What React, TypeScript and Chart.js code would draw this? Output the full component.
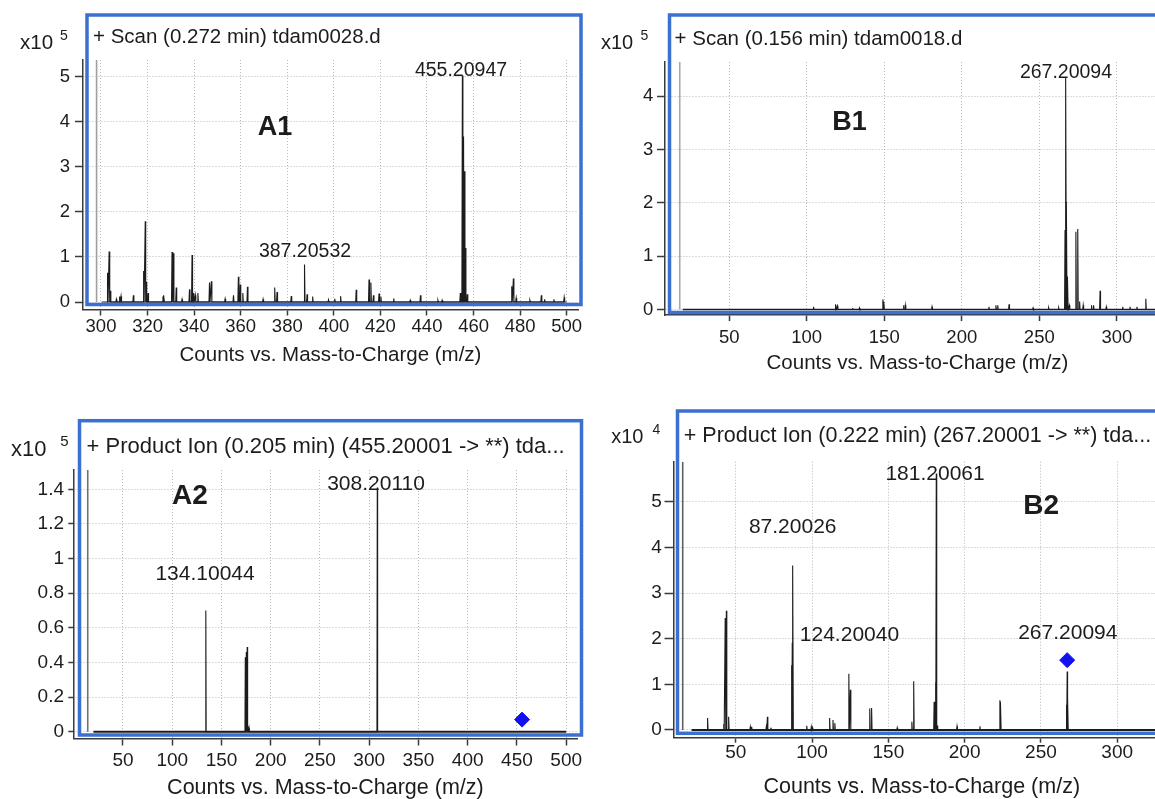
import React, { useEffect, useRef } from "react";
import { Chart, registerables } from "chart.js";

Chart.register(...registerables);

const FONT = "'Liberation Sans', Arial, Helvetica, sans-serif";
const FRAME_BLUE = "#3b6fd0";
const INK = "#1c1c1c";
const GRID = "#b8b8b8";
const AXIS = "#3a3a3a";

// ---------------- A1 : + Scan (0.272 min) tdam0028.d  (counts x10^5) ----------------
const a1Title = "+ Scan (0.272 min) tdam0028.d";
const a1Tag = "A1";
const a1PeakTexts = ["455.20947", "387.20532"];
const a1Mz = [
  302.8, 303.5, 304.0, 306.6, 308.0, 308.6, 313.9, 318.3, 319.0, 319.4, 320.2, 326.6, 327.0,
  330.5, 331.1, 332.3, 334.8, 338.0, 339.1, 339.8, 340.5, 341.6, 346.6, 347.4, 353.3, 356.9,
  359.0, 359.8, 360.9, 362.9, 369.6, 374.6, 375.6, 381.7, 387.4, 388.5, 390.9, 397.7, 400.4,
  402.9, 409.6, 415.1, 415.9, 417.0, 419.4, 420.2, 425.7, 432.8, 437.2, 444.7, 446.5, 454.3,
  455.2, 455.7, 456.1, 456.5, 457.3, 476.4, 477.1, 478.3, 484.2, 489.1, 490.5, 494.5, 498.9,
];
const a1Int = [
  0.65, 1.12, 0.25, 0.06, 0.12, 0.13, 0.15, 0.69, 1.79, 0.45, 0.2, 0.12, 0.15,
  1.11, 1.08, 0.32, 0.06, 0.28, 1.04, 0.2, 0.15, 0.2, 0.43, 0.46, 0.07, 0.15,
  0.56, 0.39, 0.2, 0.34, 0.06, 0.32, 0.22, 0.13, 0.83, 0.17, 0.12, 0.05, 0.07,
  0.13, 0.27, 0.5, 0.43, 0.15, 0.19, 0.12, 0.08, 0.04, 0.15, 0.04, 0.04, 0.2,
  5.02, 3.67, 2.9, 1.2, 0.17, 0.35, 0.52, 0.09, 0.04, 0.15, 0.06, 0.06, 0.1,
];
const a1XTicks = [300, 320, 340, 360, 380, 400, 420, 440, 460, 480, 500];
const a1YTicks = [0, 1, 2, 3, 4, 5];
const a1YLabels = ["0", "1", "2", "3", "4", "5"];
const a1Cursor = 298.1;
const a1Baseline = [300.3, 500];

// ---------------- B1 : + Scan (0.156 min) tdam0018.d  (counts x10^5) ----------------
const b1Title = "+ Scan (0.156 min) tdam0018.d";
const b1Tag = "B1";
const b1PeakTexts = ["267.20094"];
const b1Mz = [
  104.4, 118.6, 119.8, 129.5, 134.0, 149.1, 149.8, 162.4, 163.6, 180.8, 217.5, 222.0, 223.2,
  230.5, 246.0, 256.0, 262.5, 266.6, 267.2, 267.6, 268.3, 269.4, 273.6, 274.8, 276.0, 278.3,
  283.7, 285.0, 289.2, 293.2, 303.8, 308.5, 313.0, 318.7,
];
const b1Int = [
  0.05, 0.1, 0.07, 0.03, 0.03, 0.19, 0.15, 0.08, 0.08, 0.05, 0.05, 0.08, 0.08,
  0.1, 0.03, 0.03, 0.03, 1.49, 4.36, 2.02, 0.62, 0.08, 1.46, 1.51, 0.15, 0.08,
  0.08, 0.08, 0.35, 0.05, 0.05, 0.05, 0.05, 0.2,
];
const b1XTicks = [50, 100, 150, 200, 250, 300];
const b1YTicks = [0, 1, 2, 3, 4];
const b1YLabels = ["0", "1", "2", "3", "4"];
const b1Cursor = 18.1;
const b1Baseline = [20, 334];

// ---------------- A2 : Product Ion of 455.20001  (counts x10^5) ----------------
const a2Title = "+ Product Ion (0.205 min) (455.20001 -> **) tda...";
const a2Tag = "A2";
const a2PeakTexts = ["308.20110", "134.10044"];
const a2Mz = [134.1, 174.2, 175.2, 176.1, 177.0, 178.0, 308.2];
const a2Int = [0.7, 0.43, 0.46, 0.49, 0.03, 0.02, 1.41];
const a2XTicks = [50, 100, 150, 200, 250, 300, 350, 400, 450, 500];
const a2YTicks = [0, 0.2, 0.4, 0.6, 0.8, 1, 1.2, 1.4];
const a2YLabels = ["0", "0.2", "0.4", "0.6", "0.8", "1", "1.2", "1.4"];
const a2Cursor = 14.2;
const a2Baseline = [20, 500];
const a2Precursor = [455.2, 0.07];

// ---------------- B2 : Product Ion of 267.20001  (counts x10^4) ----------------
const b2Title = "+ Product Ion (0.222 min) (267.20001 -> **) tda...";
const b2Tag = "B2";
const b2PeakTexts = ["181.20061", "87.20026", "124.20040", "267.20094"];
const b2Mz = [
  31.5, 42.1, 43.05, 43.8, 45.3, 59.5, 60.4, 70.0, 70.7, 73.0, 86.6, 87.0, 87.4, 96.5, 99.5,
  100.2, 111.5, 113.7, 114.9, 124.1, 125.1, 137.8, 139.0, 155.8, 165.4, 166.6, 180.0, 181.0,
  181.4, 182.2, 195.0, 210.0, 223.1, 223.6, 266.8, 267.2, 267.6,
];
const b2Int = [
  0.26, 0.13, 2.45, 2.61, 0.29, 0.07, 0.07, 0.07, 0.29, 0.05, 1.42, 1.91, 3.6, 0.09, 0.07,
  0.05, 0.26, 0.22, 0.15, 1.23, 0.88, 0.47, 0.48, 0.05, 0.18, 1.07, 0.62, 1.04,
  5.62, 0.1, 0.08, 0.08, 0.65, 0.62, 0.55, 1.28, 0.68,
];
const b2XTicks = [50, 100, 150, 200, 250, 300];
const b2YTicks = [0, 1, 2, 3, 4, 5];
const b2YLabels = ["0", "1", "2", "3", "4", "5"];
const b2Cursor = 15.2;
const b2Baseline = [21, 334];
const b2Precursor = [267.2, 1.53];

// ---------------- panel layout ----------------
type Ann = { text: string; x: number; y: number; size: number; bold?: boolean };
type PanelCfg = {
  left: number; top: number; width: number; height: number;
  pad: { top: number; right: number; bottom: number };
  yAxisW: number; xAxisH: number;
  xMin: number; xMax: number; yMin: number; yMax: number;
  xTicks: number[]; yTicks: number[]; yLabels: string[];
  tickFont: number; axisTitleFont: number;
  xTickLen: number; xTickPad: number; yTickLen: number; yTickPad: number;
  mz: number[]; ints: number[]; hw: number;
  baseline: number[]; baseWidth: number;
  cursor: number; cursorColor: string;
  precursor?: number[];
  frame: number[];
  title: string; titleX: number; titleY: number; titleFont: number;
  pow: string; expX: number; expY: number; expFont: number; powX: number; powY: number; powFont: number;
  annotations: Ann[];
};

const panels: PanelCfg[] = [
  {
    left: 0, top: 0, width: 600, height: 390,
    pad: { top: 60, right: 22, bottom: 22.2 }, yAxisW: 83, xAxisH: 58.3,
    xMin: 292.27, xMax: 504.85, yMin: -0.166, yMax: 5.366,
    xTicks: a1XTicks, yTicks: a1YTicks, yLabels: a1YLabels,
    tickFont: 18.5, axisTitleFont: 20.5,
    xTickLen: 6, xTickPad: 0, yTickLen: 8, yTickPad: 5,
    mz: a1Mz, ints: a1Int, hw: 0.22, baseline: a1Baseline, baseWidth: 1.2,
    cursor: a1Cursor, cursorColor: "#a0a0a0",
    frame: [87, 15, 581, 304.5],
    title: a1Title, titleX: 93, titleY: 37.3, titleFont: 20.5,
    pow: "5", expX: 20, expY: 43, expFont: 20.5, powX: 60, powY: 35.7, powFont: 14,
    annotations: [
      { text: a1Tag, x: 374.7, y: 3.86, size: 27, bold: true },
      { text: a1PeakTexts[0], x: 454.6, y: 5.12, size: 19.5 },
      { text: a1PeakTexts[1], x: 387.6, y: 1.11, size: 19.5 },
    ],
  },
  {
    left: 590, top: 0, width: 590, height: 390,
    pad: { top: 62, right: 10, bottom: 14.4 }, yAxisW: 75, xAxisH: 60.6,
    xMin: 8.59, xMax: 334.3, yMin: -0.103, yMax: 4.644,
    xTicks: b1XTicks, yTicks: b1YTicks, yLabels: b1YLabels,
    tickFont: 18.5, axisTitleFont: 20.5,
    xTickLen: 6, xTickPad: 6, yTickLen: 8, yTickPad: 3.7,
    mz: b1Mz, ints: b1Int, hw: 0.3, baseline: b1Baseline, baseWidth: 1.3,
    cursor: b1Cursor, cursorColor: "#a8a8a8",
    frame: [79.5, 15, 620, 312.5],
    title: b1Title, titleX: 84.6, titleY: 39.3, titleFont: 20.5,
    pow: "5", expX: 11, expY: 43, expFont: 20, powX: 50.5, powY: 36, powFont: 14,
    annotations: [
      { text: b1Tag, x: 127.6, y: 3.5, size: 27, bold: true },
      { text: b1PeakTexts[0], x: 267.2, y: 4.44, size: 19.5 },
    ],
  },
  {
    left: 0, top: 390, width: 600, height: 420,
    pad: { top: 80, right: 22.5, bottom: 8.8 }, yAxisW: 73.3, xAxisH: 62.7,
    xMin: -0.46, xMax: 511.5, yMin: -0.039, yMax: 1.5115,
    xTicks: a2XTicks, yTicks: a2YTicks, yLabels: a2YLabels,
    tickFont: 19, axisTitleFont: 21.5,
    xTickLen: 7, xTickPad: 4, yTickLen: 5, yTickPad: 4.3,
    mz: a2Mz, ints: a2Int, hw: 0.35, baseline: a2Baseline, baseWidth: 2,
    cursor: a2Cursor, cursorColor: "#707070",
    precursor: a2Precursor,
    frame: [79.5, 30.7, 581.5, 345],
    title: a2Title, titleX: 86.5, titleY: 56.7, titleFont: 22,
    pow: "5", expX: 11, expY: 60, expFont: 22, powX: 60.2, powY: 51.7, powFont: 15,
    annotations: [
      { text: a2Tag, x: 118, y: 1.357, size: 28, bold: true },
      { text: a2PeakTexts[0], x: 306.9, y: 1.431, size: 21 },
      { text: a2PeakTexts[1], x: 133.3, y: 0.911, size: 21 },
    ],
  },
  {
    left: 590, top: 390, width: 590, height: 420,
    pad: { top: 71.7, right: 10, bottom: 10.4 }, yAxisW: 83.5, xAxisH: 61.9,
    xMin: 9.16, xMax: 334.6, yMin: -0.169, yMax: 5.876,
    xTicks: b2XTicks, yTicks: b2YTicks, yLabels: b2YLabels,
    tickFont: 19, axisTitleFont: 21.5,
    xTickLen: 5, xTickPad: -1, yTickLen: 9, yTickPad: 2.8,
    mz: b2Mz, ints: b2Int, hw: 0.3, baseline: b2Baseline, baseWidth: 2,
    cursor: b2Cursor, cursorColor: "#606060",
    precursor: b2Precursor,
    frame: [87.5, 21, 620, 343.3],
    title: b2Title, titleX: 93.8, titleY: 46, titleFont: 21.5,
    pow: "4", expX: 21.2, expY: 47.3, expFont: 20, powX: 62.6, powY: 40, powFont: 14,
    annotations: [
      { text: b2Tag, x: 250.2, y: 4.906, size: 28, bold: true },
      { text: b2PeakTexts[0], x: 180.6, y: 5.607, size: 21 },
      { text: b2PeakTexts[1], x: 87.3, y: 4.45, size: 21 },
      { text: b2PeakTexts[2], x: 124.5, y: 2.08, size: 21 },
      { text: b2PeakTexts[3], x: 267.6, y: 2.118, size: 21 },
    ],
  },
];

function buildProfile(mz: number[], ints: number[], hw: number) {
  const order = mz.map((_, i) => i).sort((a, b) => mz[a] - mz[b]);
  const pts: { x: number; y: number }[] = [];
  for (const i of order) {
    pts.push({ x: mz[i] - hw, y: 0 }, { x: mz[i], y: ints[i] }, { x: mz[i] + hw, y: 0 });
  }
  return pts;
}

function buildConfig(p: PanelCfg): any {
  const datasets: any[] = [
    {
      data: [{ x: p.cursor, y: 0 }, { x: p.cursor, y: p.yMax }],
      borderColor: p.cursorColor, borderWidth: 1.6, pointRadius: 0,
    },
    {
      data: [{ x: p.baseline[0], y: 0 }, { x: p.baseline[1], y: 0 }],
      borderColor: INK, borderWidth: p.baseWidth, pointRadius: 0,
    },
    {
      data: buildProfile(p.mz, p.ints, p.hw),
      borderColor: INK, borderWidth: 1.1, pointRadius: 0,
    },
  ];
  if (p.precursor) {
    datasets.push({
      type: "scatter",
      data: [{ x: p.precursor[0], y: p.precursor[1] }],
      pointStyle: "rectRot", pointRadius: 7.5,
      backgroundColor: "#1212ee", borderColor: "#1212ee", showLine: false,
    });
  }

  const decor = {
    id: "decor",
    afterDraw(chart: any) {
      const ctx = chart.ctx as CanvasRenderingContext2D;
      const xs = chart.scales.x;
      const ys = chart.scales.y;
      ctx.save();
      ctx.fillStyle = INK;
      ctx.textBaseline = "middle";
      ctx.textAlign = "center";
      for (const a of p.annotations) {
        ctx.font = `${a.bold ? "bold " : ""}${a.size}px ${FONT}`;
        ctx.fillText(a.text, xs.getPixelForValue(a.x), ys.getPixelForValue(a.y));
      }
      ctx.textAlign = "left";
      ctx.font = `${p.titleFont}px ${FONT}`;
      ctx.fillText(p.title, p.titleX, p.titleY);
      ctx.font = `${p.expFont}px ${FONT}`;
      ctx.fillText("x10", p.expX, p.expY);
      ctx.font = `${p.powFont}px ${FONT}`;
      ctx.fillText(p.pow, p.powX, p.powY);
      ctx.strokeStyle = FRAME_BLUE;
      ctx.lineWidth = 3.5;
      const [x1, y1, x2, y2] = p.frame;
      ctx.strokeRect(x1, y1, x2 - x1, y2 - y1);
      ctx.restore();
    },
  };

  const fixTicks = (vals: number[]) => (scale: any) => {
    scale.ticks = vals.map((v) => ({ value: v }));
  };

  return {
    type: "line",
    data: { datasets },
    plugins: [decor],
    options: {
      animation: false,
      responsive: false,
      maintainAspectRatio: false,
      events: [],
      layout: {
        autoPadding: false,
        padding: { left: 0, top: p.pad.top, right: p.pad.right, bottom: p.pad.bottom },
      },
      plugins: { legend: { display: false }, tooltip: { enabled: false }, title: { display: false } },
      elements: { line: { tension: 0 } },
      scales: {
        x: {
          type: "linear",
          min: p.xMin,
          max: p.xMax,
          afterBuildTicks: fixTicks(p.xTicks),
          afterFit: (s: any) => {
            s.height = p.xAxisH;
            s.paddingLeft = 0; s.paddingRight = 0; s.paddingTop = 0; s.paddingBottom = 0;
          },
          ticks: {
            autoSkip: false, maxRotation: 0, minRotation: 0,
            padding: p.xTickPad, color: INK,
            font: { family: FONT, size: p.tickFont },
            callback: (v: number) => String(v),
          },
          grid: {
            color: GRID, lineWidth: 1, drawTicks: true,
            tickLength: p.xTickLen, tickColor: AXIS, tickWidth: 1.5, tickBorderDash: [],
          },
          border: { display: true, color: AXIS, width: 1.5, dash: [1, 2] },
          title: {
            display: true, text: "Counts vs. Mass-to-Charge (m/z)", color: INK,
            font: { family: FONT, size: p.axisTitleFont }, padding: 0,
          },
        },
        y: {
          type: "linear",
          min: p.yMin,
          max: p.yMax,
          afterBuildTicks: fixTicks(p.yTicks),
          afterFit: (s: any) => {
            s.width = p.yAxisW;
            s.paddingLeft = 0; s.paddingRight = 0; s.paddingTop = 0; s.paddingBottom = 0;
          },
          ticks: {
            autoSkip: false, padding: p.yTickPad, color: INK,
            font: { family: FONT, size: p.tickFont },
            callback: (v: number) => {
              const i = p.yTicks.findIndex((t) => Math.abs(t - v) < 1e-9);
              return i >= 0 ? p.yLabels[i] : "";
            },
          },
          grid: {
            color: GRID, lineWidth: 1, drawTicks: true,
            tickLength: p.yTickLen, tickColor: AXIS, tickWidth: 1.5, tickBorderDash: [],
          },
          border: { display: true, color: AXIS, width: 1.5, dash: [1, 2] },
        },
      },
    },
  };
}

function Panel({ cfg }: { cfg: PanelCfg }) {
  const ref = useRef<HTMLCanvasElement | null>(null);
  useEffect(() => {
    if (!ref.current) return;
    const chart = new Chart(ref.current, buildConfig(cfg));
    return () => chart.destroy();
  }, [cfg]);
  return (
    <canvas
      ref={ref}
      width={cfg.width}
      height={cfg.height}
      style={{ position: "absolute", left: cfg.left, top: cfg.top, width: cfg.width, height: cfg.height }}
    />
  );
}

export default function App() {
  return (
    <div
      style={{
        position: "absolute", left: 0, top: 0, width: 1155, height: 799,
        overflow: "hidden", background: "#ffffff",
      }}
    >
      {panels.map((p, i) => (
        <Panel key={i} cfg={p} />
      ))}
    </div>
  );
}
